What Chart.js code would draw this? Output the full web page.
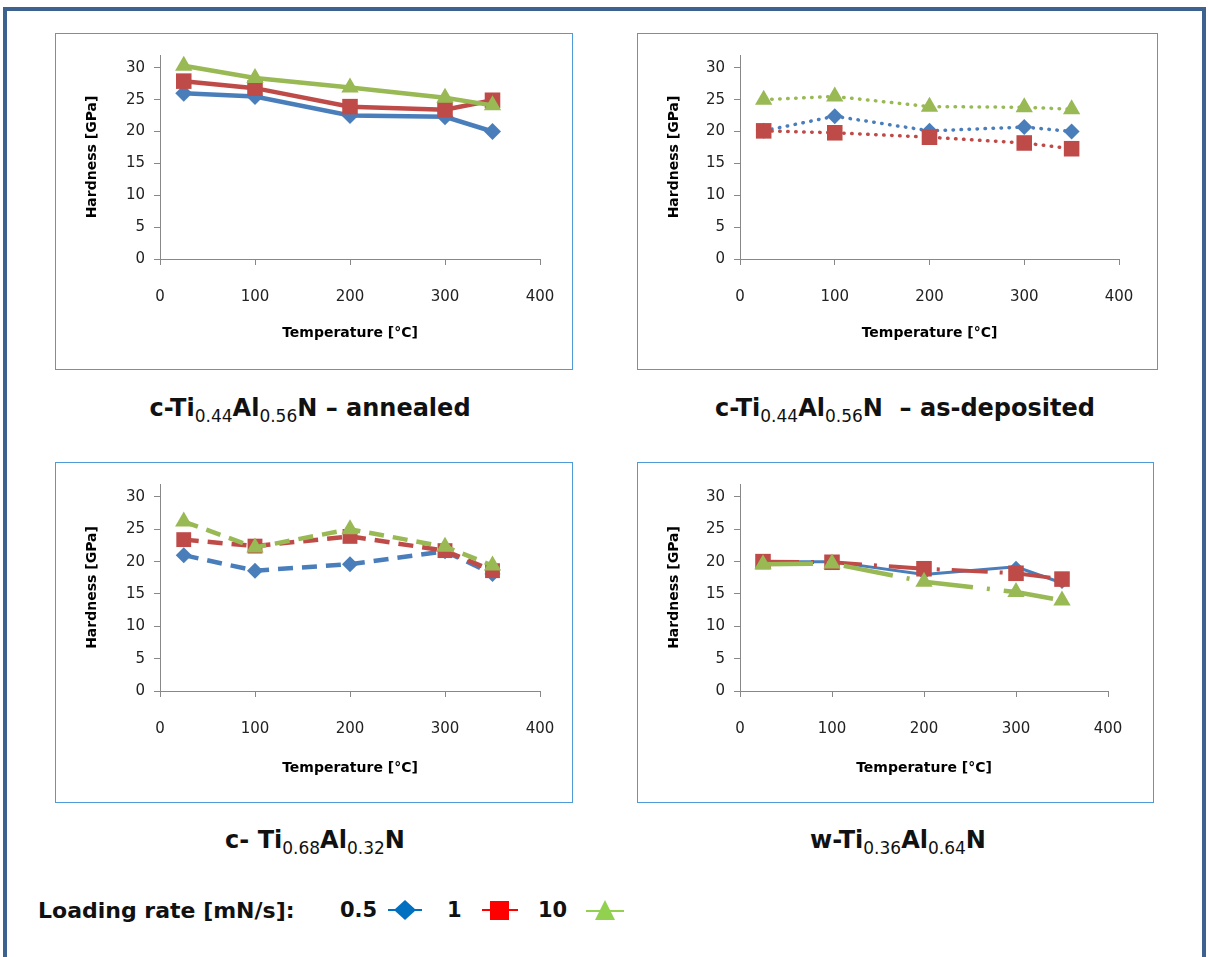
<!DOCTYPE html>
<html>
<head>
<meta charset="utf-8">
<title>Hardness vs temperature</title>
<script src="https://cdn.jsdelivr.net/npm/chart.js"></script>
<style>
  body { margin: 0; background: #fff; font-family: 'DejaVu Sans', sans-serif; }
  #frame { position: absolute; left: 3px; top: 7px; width: 1195px; height: 1000px; border: 4px solid #3d6290; }
  .panel { position: absolute; border: 1px solid #4f9bd8; box-sizing: border-box; background: #fff; }
  .panel canvas { display: block; }
  .caption { position: absolute; font-weight: bold; font-size: 24px; white-space: nowrap; transform: translate(-50%, -50%); color: #111; }
  .caption sub { font-size: 17px; font-weight: normal; vertical-align: -6px; line-height: 0; }
  .legend { position: absolute; font-weight: bold; white-space: nowrap; color: #111; transform: translateY(-50%); }
  .key { position: absolute; }
</style>
</head>
<body>
<div id="frame"></div>

<div class="panel" id="p1"><canvas id="c1"></canvas></div>
<div class="panel" id="p2"><canvas id="c2"></canvas></div>
<div class="panel" id="p3"><canvas id="c3"></canvas></div>
<div class="panel" id="p4"><canvas id="c4"></canvas></div>

<div class="caption" style="left:310px; top:408px;">c-Ti<sub>0.44</sub>Al<sub>0.56</sub>N &ndash; annealed</div>
<div class="caption" style="left:905px; top:408px;">c-Ti<sub>0.44</sub>Al<sub>0.56</sub>N &nbsp;&ndash; as-deposited</div>
<div class="caption" style="left:315px; top:840px;">c- Ti<sub>0.68</sub>Al<sub>0.32</sub>N</div>
<div class="caption" style="left:898px; top:840px;">w-Ti<sub>0.36</sub>Al<sub>0.64</sub>N</div>

<div class="legend" style="left:38px; top:910px; font-size:22px;">Loading rate [mN/s]:</div>
<div class="legend" id="lg0" style="left:340px; top:910px; font-size:21px;"></div>
<div class="legend" id="lg1" style="left:447px; top:910px; font-size:21px;"></div>
<div class="legend" id="lg2" style="left:538px; top:910px; font-size:21px;"></div>
<svg class="key" style="left:386px; top:898px;" width="38" height="24">
  <line x1="2" y1="12" x2="36" y2="12" stroke="#0070C0" stroke-width="2"/>
  <polygon points="19,2 30,12 19,22 8,12" fill="#0070C0"/>
</svg>
<svg class="key" style="left:480px; top:898px;" width="40" height="24">
  <line x1="2" y1="12" x2="38" y2="12" stroke="#FF0000" stroke-width="2"/>
  <rect x="10" y="3" width="19" height="19" fill="#FF0000"/>
</svg>
<svg class="key" style="left:584px; top:898px;" width="42" height="24">
  <line x1="2" y1="13" x2="40" y2="13" stroke="#92D050" stroke-width="2"/>
  <polygon points="21,2 31,22 11,22" fill="#92D050"/>
</svg>

<script>
// Temperatures and hardness values [GPa] for each loading rate (0.5, 1, 10 mN/s)
const temps = [25, 100, 200, 300, 350];
const loadingRates = ['0.5', '1', '10'];
const hardnessTicks = [0, 5, 10, 15, 20, 25, 30];
const tempTicks = [0, 100, 200, 300, 400];

const annealed05 = [26.0, 25.5, 22.5, 22.3, 20.0];
const annealed1  = [27.9, 26.8, 23.9, 23.4, 24.9];
const annealed10 = [30.3, 28.4, 26.9, 25.3, 24.1];

const asDep05 = [20.1, 22.4, 20.1, 20.7, 20.0];
const asDep1  = [20.1, 19.8, 19.1, 18.2, 17.3];
const asDep10 = [25.0, 25.5, 23.9, 23.8, 23.5];

const ti68_05 = [21.0, 18.6, 19.6, 21.6, 18.1];
const ti68_1  = [23.4, 22.4, 23.9, 21.7, 18.6];
const ti68_10 = [26.2, 22.2, 25.0, 22.3, 19.4];

const w36_05 = [20.0, 20.0, 18.0, 19.2, 16.7];
const w36_1  = [20.0, 19.9, 18.9, 18.2, 17.3];
const w36_10 = [19.6, 19.7, 16.9, 15.3, 14.0];

const colors = ['#4A7EBB', '#BE4B48', '#98B954'];
const markers = ['rectRot', 'rect', 'triangle'];

loadingRates.forEach((r, i) => { document.getElementById('lg' + i).textContent = r; });

function pts(vals) {
  return temps.map((t, i) => ({ x: t, y: vals[i] }));
}

function drawPanel(id, box, plot, series, lines, radii) {
  const wrap = document.getElementById('p' + id);
  Object.assign(wrap.style, { left: box.x + 'px', top: box.y + 'px', width: box.w + 'px', height: box.h + 'px' });
  const cw = box.w - 2, ch = box.h - 2;
  const canvas = document.getElementById('c' + id);
  canvas.width = cw; canvas.height = ch;

  const padTop = plot.t - box.y - 1;
  const axisW = plot.l - box.x - 1;
  const padRight = cw - (plot.r - box.x - 1);
  const axisH = ch - padTop - (plot.b - plot.t);

  const datasets = series.map((vals, i) => ({
    label: loadingRates[i],
    data: pts(vals),
    showLine: true,
    borderColor: colors[i],
    backgroundColor: colors[i],
    borderWidth: lines[i].w,
    borderDash: lines[i].dash || [],
    borderCapStyle: lines[i].cap || 'butt',
    pointStyle: markers[i],
    pointRadius: radii[i],
    pointBorderWidth: 0,
    pointBackgroundColor: colors[i],
    order: 2 - i
  }));

  const axisColor = '#888888';
  const titleFont = { family: 'DejaVu Sans', size: 14, weight: 'bold' };
  new Chart(canvas, {
    type: 'scatter',
    data: { datasets },
    options: {
      responsive: false,
      animation: false,
      clip: false,
      layout: { padding: { top: padTop, right: padRight, left: 0, bottom: 0 } },
      plugins: { legend: { display: false }, tooltip: { enabled: false } },
      scales: {
        x: {
          type: 'linear', min: 0, max: 400,
          afterBuildTicks: s => { s.ticks = tempTicks.map(v => ({ value: v })); },
          afterFit: s => { s.height = axisH; },
          grid: { drawOnChartArea: false, tickLength: 6, color: axisColor },
          border: { color: axisColor, width: 1 },
          // tall line height pushes the labels down without widening the side padding
          ticks: { padding: 4, color: '#222', font: { family: 'DejaVu Sans', size: 15, lineHeight: '56px' } },
          title: { display: true, text: 'Temperature [°C]', color: '#000', font: titleFont,
                   padding: { top: 0, bottom: plot.xt } }
        },
        y: {
          type: 'linear', min: 0, max: 32,
          afterBuildTicks: s => { s.ticks = hardnessTicks.map(v => ({ value: v })); },
          afterFit: s => { s.width = axisW; },
          grid: { drawOnChartArea: false, tickLength: 6, color: axisColor },
          border: { color: axisColor, width: 1 },
          ticks: { padding: 9, color: '#222', font: { family: 'DejaVu Sans', size: 15 } },
          title: { display: true, text: 'Hardness [GPa]', color: '#000', font: titleFont,
                   padding: { top: 28, bottom: 0 } }
        }
      }
    }
  });
}

drawPanel(1, { x: 55, y: 33, w: 518, h: 337 }, { l: 160, r: 540, t: 55, b: 259, xt: 27 },
  [annealed05, annealed1, annealed10],
  [{ w: 4.5 }, { w: 4.5 }, { w: 4.5 }],
  [8.5, 11, 10]);

drawPanel(2, { x: 637, y: 33, w: 521, h: 337 }, { l: 740, r: 1119, t: 55, b: 259, xt: 27 },
  [asDep05, asDep1, asDep10],
  [{ w: 3.5, dash: [0.5, 7.5], cap: 'round' }, { w: 3.5, dash: [0.5, 7.5], cap: 'round' }, { w: 3.5, dash: [0.5, 7.5], cap: 'round' }],
  [8, 11, 10]);

drawPanel(3, { x: 55, y: 462, w: 518, h: 341 }, { l: 160, r: 540, t: 484, b: 691, xt: 25 },
  [ti68_05, ti68_1, ti68_10],
  [{ w: 4.5, dash: [15, 9] }, { w: 4.5, dash: [15, 9] }, { w: 4.5, dash: [15, 9] }],
  [8, 10.5, 10]);

drawPanel(4, { x: 637, y: 462, w: 517, h: 341 }, { l: 740, r: 1108, t: 484, b: 691, xt: 25 },
  [w36_05, w36_1, w36_10],
  [{ w: 3 }, { w: 4, dash: [36, 12, 3, 12] }, { w: 4.5, dash: [50, 14, 3, 14] }],
  [6, 11, 10]);
</script>
</body>
</html>
